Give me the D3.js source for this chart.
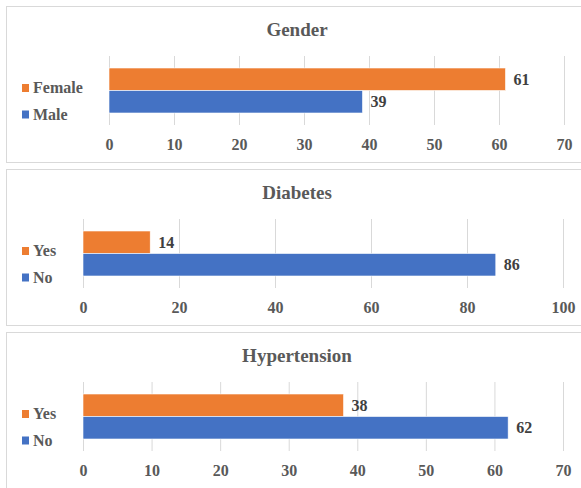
<!DOCTYPE html>
<html>
<head>
<meta charset="utf-8">
<script src="https://cdn.jsdelivr.net/npm/d3@7"></script>
<style>
  body { margin: 0; background: #fff; }
</style>
</head>
<body>
<div id="chart"></div>
<script>
// data
var titles = ["Gender", "Diabetes", "Hypertension"];
var topNames = ["Female", "Yes", "Yes"];
var bottomNames = ["Male", "No", "No"];
var topValues = [61, 14, 38];
var bottomValues = [39, 86, 62];
var genderTicks = [0, 10, 20, 30, 40, 50, 60, 70];
var diabetesTicks = [0, 20, 40, 60, 80, 100];
var hyperTicks = [0, 10, 20, 30, 40, 50, 60, 70];
var tickSets = [genderTicks, diabetesTicks, hyperTicks];

var width = 581, height = 488;
var orange = "#ED7D31", blue = "#4472C4", grey = "#595959";
var serif = "Liberation Serif";

// layout of each panel
var panelTops = [6, 169, 332];
var panelH = 156;
var plotLeft = [109, 83, 83];
var plotRight = [564, 563, 563];

var svg = d3.select("#chart")
  .append("svg")
  .attr("width", width)
  .attr("height", height)
  .attr("font-family", serif)
  .attr("font-weight", "bold");

titles.forEach(function(title, i) {
  var g = svg.append("g").attr("transform", "translate(0," + panelTops[i] + ")");

  g.append("rect")
    .attr("x", 6.5).attr("y", 0.5)
    .attr("width", 590).attr("height", panelH)
    .attr("fill", "#fff")
    .attr("stroke", "#d9d9d9");

  g.append("text")
    .attr("x", 297).attr("y", 30)
    .attr("text-anchor", "middle")
    .attr("font-family", serif)
    .attr("font-size", 19)
    .attr("fill", grey)
    .text(title);

  var ticks = tickSets[i];
  var x = d3.scaleLinear()
    .domain([0, ticks[ticks.length - 1]])
    .range([plotLeft[i], plotRight[i]]);

  var y = d3.scaleBand()
    .domain(["top", "bottom"])
    .range([62, 107])
    .padding(0);

  // gridlines
  var grid = g.append("g")
    .attr("transform", "translate(0,119)")
    .call(d3.axisBottom(x).tickValues(ticks).tickSize(-69).tickFormat(""));
  grid.select(".domain").remove();
  grid.selectAll("line").attr("stroke", "#d9d9d9");

  // tick labels
  var ax = g.append("g")
    .attr("transform", "translate(0,139)")
    .call(d3.axisBottom(x).tickValues(ticks).tickSize(0).tickPadding(0));
  ax.attr("font-family", serif).attr("font-size", 16);
  ax.select(".domain").remove();
  ax.selectAll("text")
    .attr("y", 0)
    .attr("dy", "0.34em")
    .attr("font-family", serif)
    .attr("font-weight", "bold")
    .attr("fill", grey);

  var bars = [
    { key: "top", name: topNames[i], value: topValues[i], color: orange },
    { key: "bottom", name: bottomNames[i], value: bottomValues[i], color: blue }
  ];

  g.selectAll("rect.bar")
    .data(bars)
    .enter()
    .append("rect")
    .attr("class", "bar")
    .attr("x", x(0))
    .attr("y", function(d) { return y(d.key); })
    .attr("width", function(d) { return x(d.value) - x(0); })
    .attr("height", y.bandwidth())
    .attr("fill", function(d) { return d.color; })
    .attr("stroke", "#fff")
    .attr("stroke-width", 0.6);

  g.selectAll("text.val")
    .data(bars)
    .enter()
    .append("text")
    .attr("class", "val")
    .attr("x", function(d) { return x(d.value) + 8; })
    .attr("y", function(d) { return y(d.key) + y.bandwidth() / 2; })
    .attr("dy", "0.34em")
    .attr("font-size", 16)
    .attr("fill", "#404040")
    .text(function(d) { return d.value; });

  // legend
  var leg = g.selectAll("g.leg")
    .data(bars)
    .enter()
    .append("g")
    .attr("class", "leg")
    .attr("transform", function(d, j) { return "translate(22," + (82 + j * 26.5) + ")"; });

  leg.append("rect")
    .attr("x", 0).attr("y", -4)
    .attr("width", 7).attr("height", 8)
    .attr("fill", function(d) { return d.color; });

  leg.append("text")
    .attr("x", 11).attr("y", 0)
    .attr("dy", "0.34em")
    .attr("font-size", 16)
    .attr("fill", grey)
    .text(function(d) { return d.name; });
});
</script>
</body>
</html>
